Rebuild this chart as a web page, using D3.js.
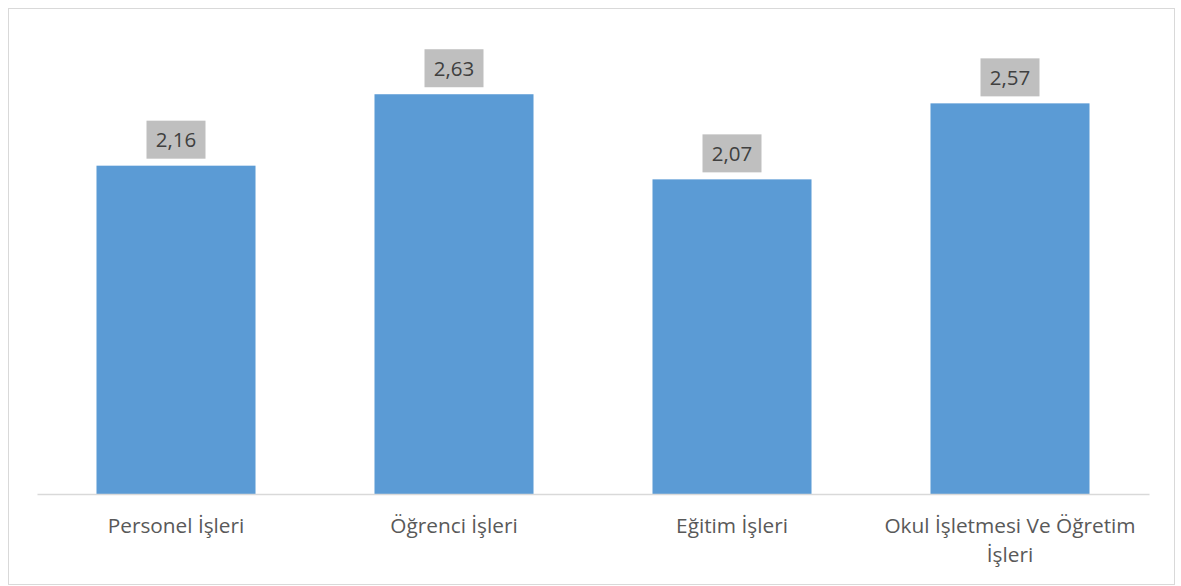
<!DOCTYPE html>
<html>
<head>
<meta charset="utf-8">
<script src="https://cdn.jsdelivr.net/npm/d3@7"></script>
<style>
  body { margin: 0; background: #fff; }
  svg { display: block; }
</style>
</head>
<body>
<svg id="chart" width="1181" height="586"></svg>
<script>
// Categories and values
const categories = ["Personel İşleri", "Öğrenci İşleri", "Eğitim İşleri", "Okul İşletmesi Ve Öğretim İşleri"];
const values = [2.16, 2.63, 2.07, 2.57];
const valueLabels = ["2,16", "2,63", "2,07", "2,57"];

const svg = d3.select("#chart");
const width = 1181, height = 586;
const left = 37, right = 1149, baseline = 494;

// outer frame
svg.append("rect")
    .attr("x", 8.5).attr("y", 8.5)
    .attr("width", 1166).attr("height", 576)
    .attr("fill", "#fff")
    .attr("stroke", "#d9d9d9")
    .attr("stroke-width", 1);

const x = d3.scaleBand()
    .domain(categories)
    .range([left, right])
    .paddingInner(0.428)
    .paddingOuter(0.214);

const y = d3.scaleLinear()
    .domain([0, 3])
    .range([baseline, baseline - 456]);

const data = categories.map((c, i) => ({cat: c, value: values[i], label: valueLabels[i]}));

// bars
svg.selectAll(".bar")
    .data(data)
    .join("rect")
    .attr("class", "bar")
    .attr("x", d => x(d.cat))
    .attr("y", d => y(d.value))
    .attr("width", x.bandwidth())
    .attr("height", d => y(0) - y(d.value))
    .attr("fill", "#5b9bd5");

// axis line
const axis = svg.append("g")
    .attr("transform", `translate(0,${baseline})`)
    .call(d3.axisBottom(x).tickSize(0).tickFormat(""));
axis.select(".domain").attr("stroke", "#d9d9d9").attr("stroke-width", 1.5);

// category labels, wrapped where Excel wraps them
const wrapAt = 26;
svg.selectAll(".cat")
    .data(data)
    .join("text")
    .attr("class", "cat")
    .attr("text-anchor", "middle")
    .attr("font-family", "'Open Sans', sans-serif")
    .attr("font-size", 20.8)
    .attr("fill", "#595959")
    .each(function(d) {
        const words = d.cat.split(" ");
        const lines = [];
        let line = "";
        words.forEach(w => {
            const test = line ? line + " " + w : w;
            if (test.length > wrapAt && line) { lines.push(line); line = w; }
            else line = test;
        });
        lines.push(line);
        const t = d3.select(this);
        lines.forEach((l, i) => {
            t.append("tspan")
                .attr("x", x(d.cat) + x.bandwidth() / 2)
                .attr("y", baseline + 39 + i * 29)
                .text(l);
        });
    });

// value labels with grey boxes
const lab = svg.selectAll(".vlab")
    .data(data)
    .join("g")
    .attr("class", "vlab")
    .attr("transform", d => `translate(${x(d.cat) + x.bandwidth() / 2},${y(d.value) - 26})`);

lab.append("rect")
    .attr("x", -29.5).attr("y", -19)
    .attr("width", 59).attr("height", 38)
    .attr("fill", "#bfbfbf");

lab.append("text")
    .attr("text-anchor", "middle")
    .attr("dy", "0.36em")
    .attr("font-family", "'Open Sans', sans-serif")
    .attr("font-size", 20.5)
    .attr("fill", "#404040")
    .text(d => d.label);
</script>
</body>
</html>
